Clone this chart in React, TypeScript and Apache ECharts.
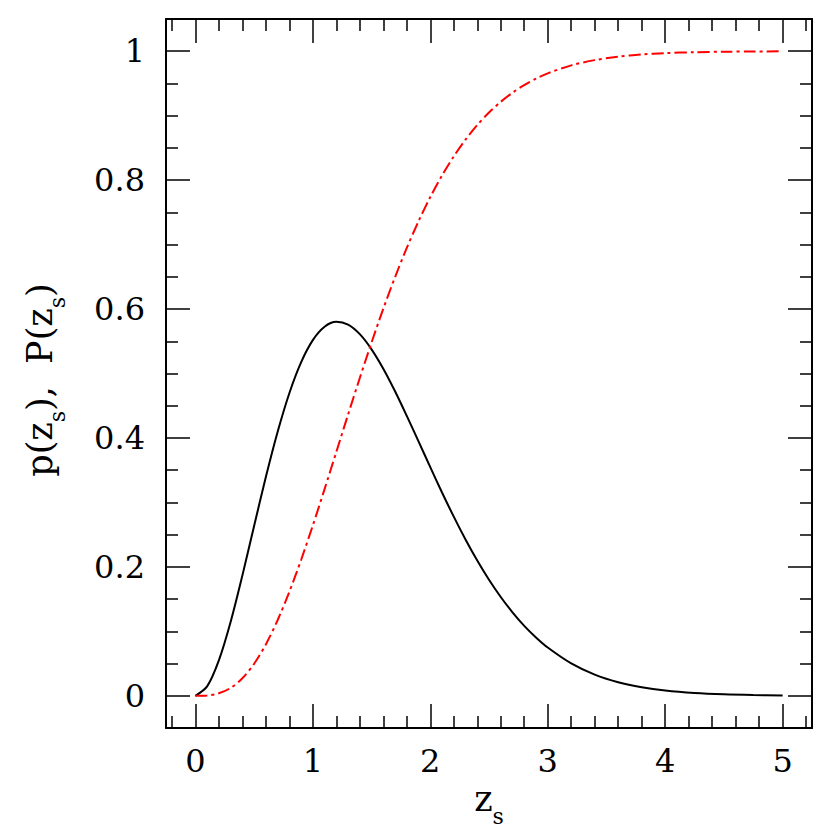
import React, { useEffect, useRef } from "react";
import * as echarts from "echarts";

const zValues = [0, 0.1, 0.2, 0.3, 0.4, 0.5, 0.6, 0.7, 0.8, 0.9, 1.0, 1.1, 1.2, 1.3, 1.4, 1.5, 1.6, 1.7, 1.8, 1.9, 2.0, 2.1, 2.2, 2.3, 2.4, 2.5, 2.6, 2.7, 2.8, 2.9, 3.0, 3.2, 3.4, 3.6, 3.8, 4.0, 4.25, 4.5, 4.75, 5.0];
const pValues = [0, 0.0145, 0.0549, 0.1145, 0.1864, 0.2633, 0.3393, 0.4092, 0.4694, 0.5173, 0.5518, 0.5726, 0.5802, 0.5758, 0.5610, 0.5375, 0.5074, 0.4724, 0.4342, 0.3947, 0.3547, 0.3154, 0.2779, 0.2425, 0.2098, 0.1800, 0.1533, 0.1295, 0.1085, 0.0905, 0.0748, 0.0502, 0.0328, 0.0210, 0.0132, 0.0081, 0.0043, 0.0022, 0.0011, 0.0005];
const cumValues = [0, 0.0005, 0.0038, 0.0121, 0.0271, 0.0496, 0.0797, 0.1172, 0.1612, 0.2107, 0.2642, 0.3206, 0.3783, 0.4362, 0.4931, 0.5481, 0.6005, 0.6495, 0.6949, 0.7362, 0.7737, 0.8072, 0.8368, 0.8628, 0.8855, 0.9049, 0.9215, 0.9356, 0.9475, 0.9574, 0.9657, 0.9781, 0.9862, 0.9915, 0.9949, 0.9970, 0.9985, 0.9992, 0.9996, 0.9998];

const xMajorTicks = [0, 1, 2, 3, 4, 5];
const xMinorTicks = [-0.2, 0.2, 0.4, 0.6, 0.8, 1.2, 1.4, 1.6, 1.8, 2.2, 2.4, 2.6, 2.8, 3.2, 3.4, 3.6, 3.8, 4.2, 4.4, 4.6, 4.8, 5.2];
const yMajorTicks = [0, 0.2, 0.4, 0.6, 0.8, 1];
const yMinorTicks = [0.05, 0.1, 0.15, 0.25, 0.3, 0.35, 0.45, 0.5, 0.55, 0.65, 0.7, 0.75, 0.85, 0.9, 0.95];
const yTickLabels = ["0", "0.2", "0.4", "0.6", "0.8", "1"];
const xTickLabels = ["0", "1", "2", "3", "4", "5"];

const FONT = "DejaVu Serif";
const FS = 32;
const NFS = 35;

const rich = {
  a: { fontFamily: FONT, fontSize: NFS, lineHeight: 38, color: "#000", verticalAlign: "top" },
  b: { fontFamily: FONT, fontSize: 22, lineHeight: 46, color: "#000", verticalAlign: "bottom" },
};

export default function App() {
  const ref = useRef<HTMLDivElement>(null);
  useEffect(() => {
    if (!ref.current) return;
    const chart = echarts.init(ref.current, null, { renderer: "svg" });
    const XMIN = -0.25, XMAX = 5.25, YMIN = -0.05, YMAX = 1.05;
    const lineStyle = { color: "#000", width: 2 };
    const tickStyle = { color: "#000", width: 1.5 };
    const mkX = (pos: string, major: boolean, main: boolean) => ({
      type: "value",
      position: pos,
      min: XMIN,
      max: XMAX,
      axisLine: { show: main, onZero: false, lineStyle },
      axisTick: { show: true, inside: true, length: major ? 24 : 12, lineStyle: tickStyle, customValues: major ? xMajorTicks : xMinorTicks },
      axisLabel: main && pos === "bottom" ? {
        show: true, customValues: xMajorTicks, margin: 17, fontFamily: FONT, fontSize: FS, color: "#000",
        formatter: (v: number) => xTickLabels[xMajorTicks.indexOf(v)] ?? String(v),
      } : { show: false },
      splitLine: { show: false },
      ...(main && pos === "bottom" ? {
        name: "{a|z}{b|s}", nameLocation: "middle", nameGap: 52,
        nameTextStyle: { fontFamily: FONT, fontSize: NFS, color: "#000", rich },
      } : {}),
    });
    const mkY = (pos: string, major: boolean, main: boolean) => ({
      type: "value",
      position: pos,
      min: YMIN,
      max: YMAX,
      axisLine: { show: main, onZero: false, lineStyle },
      axisTick: { show: true, inside: true, length: major ? 24 : 12, lineStyle: tickStyle, customValues: major ? yMajorTicks : yMinorTicks },
      axisLabel: main && pos === "left" ? {
        show: true, customValues: yMajorTicks, margin: 21, fontFamily: FONT, fontSize: FS, color: "#000",
        formatter: (v: number) => yTickLabels[yMajorTicks.indexOf(v)] ?? String(v),
      } : { show: false },
      splitLine: { show: false },
      ...(main && pos === "left" ? {
        name: "{a|p(z}{b|s}{a|),  P(z}{b|s}{a|)}", nameLocation: "middle", nameGap: 98,
        nameTextStyle: { fontFamily: FONT, fontSize: NFS, color: "#000", rich, padding: [0, 13, 0, 0] },
      } : {}),
    });
    chart.setOption({
      animation: false,
      backgroundColor: "#fff",
      grid: { left: 166, right: 18, top: 19, bottom: 102, containLabel: false, outerBoundsMode: "none" },
      xAxis: [mkX("bottom", true, true), mkX("bottom", false, false), mkX("top", true, true), mkX("top", false, false)],
      yAxis: [mkY("left", true, true), mkY("left", false, false), mkY("right", true, true), mkY("right", false, false)],
      series: [
        {
          type: "line",
          xAxisIndex: 0,
          yAxisIndex: 0,
          data: zValues.map((z, i) => [z, pValues[i]]),
          showSymbol: false,
          smooth: 0.3,
          lineStyle: { color: "#000", width: 2 },
        },
        {
          type: "line",
          xAxisIndex: 0,
          yAxisIndex: 0,
          data: zValues.map((z, i) => [z, cumValues[i]]),
          showSymbol: false,
          smooth: 0.3,
          lineStyle: { color: "#ff0000", width: 2, type: [12, 4, 3, 4] },
        },
      ],
    });
    return () => chart.dispose();
  }, []);
  return <div ref={ref} style={{ width: 830, height: 830, position: "absolute", left: 0, top: 0 }} />;
}
